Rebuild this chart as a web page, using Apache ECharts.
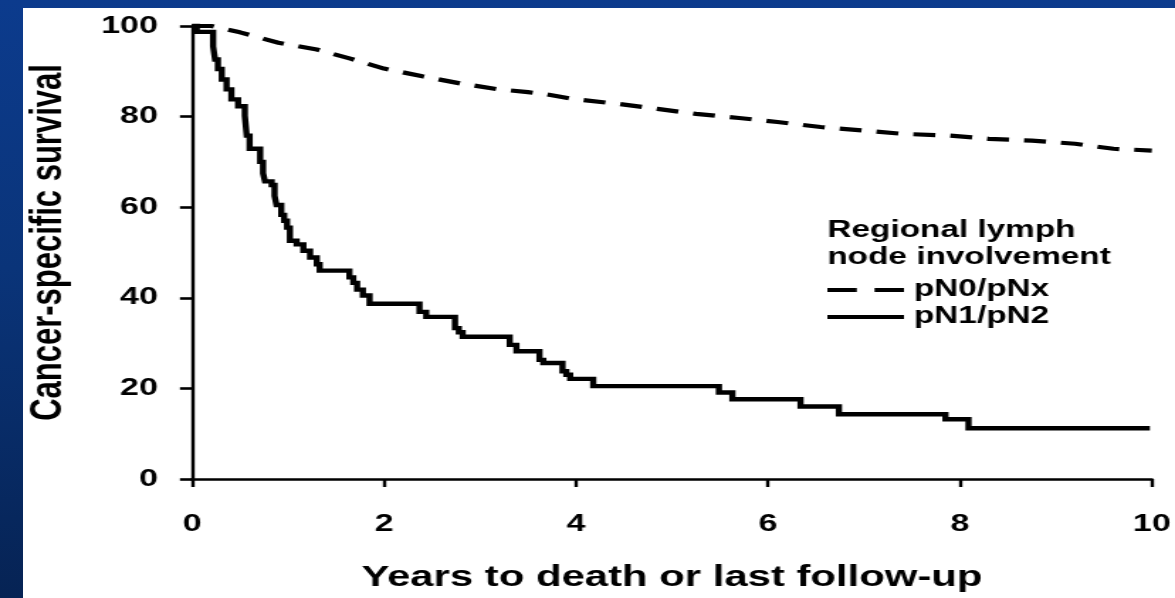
<!DOCTYPE html>
<html>
<head>
<meta charset="utf-8">
<script src="https://cdn.jsdelivr.net/npm/echarts@6/dist/echarts.min.js"></script>
<style>
  html, body { margin: 0; padding: 0; width: 1175px; height: 598px; overflow: hidden; }
  body { background: linear-gradient(180deg, #0c3b8d 0%, #0a3479 45%, #062354 100%); position: relative; }
  #panel { position: absolute; left: 23px; top: 8px; right: 0; bottom: 0; background: #ffffff; }
  /* the figure is drawn at a narrower width and widened horizontally */
  #chart { position: absolute; left: 0; top: 0; width: 828px; height: 598px; transform-origin: 0 0; }
</style>
</head>
<body>
<div id="panel"></div>
<div id="chart"></div>
<script>
// Kaplan-Meier cancer-specific survival (%) by regional lymph node status
const pN0Years = [0, 0.2, 0.5, 0.9, 1.3, 1.65, 2.0, 2.4, 2.8, 3.2, 3.5, 3.7, 4.0, 4.45, 4.85, 5.25, 5.7, 6.1, 6.55, 7.0, 7.4, 7.9, 8.3, 8.75, 9.2, 9.6, 10];
const pN0Survival = [100, 100, 98.6, 96.3, 94.8, 92.8, 90.6, 88.9, 87.3, 86.0, 85.4, 84.9, 83.8, 82.8, 81.7, 80.6, 79.7, 78.8, 77.7, 76.9, 76.2, 75.8, 75.1, 74.7, 74.0, 72.9, 72.5];

const pN1Years = [0, 0.05, 0.22, 0.24, 0.27, 0.31, 0.36, 0.41, 0.48, 0.55, 0.57, 0.60, 0.71, 0.74, 0.76, 0.83, 0.86, 0.88, 0.93, 0.96, 0.99, 1.02, 1.09, 1.16, 1.23, 1.30, 1.33, 1.64, 1.68, 1.72, 1.78, 1.85, 2.37, 2.44, 2.74, 2.78, 2.82, 3.31, 3.38, 3.62, 3.66, 3.86, 3.90, 3.94, 4.18, 5.49, 5.63, 6.34, 6.74, 7.85, 8.09, 9.98];
const pN1Survival = [100, 98.7, 95.5, 92.6, 90.5, 88.2, 86.0, 83.8, 82.3, 80.2, 75.8, 72.9, 70.0, 67.5, 65.7, 64.9, 62.5, 60.5, 58.3, 57.0, 55.5, 52.6, 51.8, 50.4, 48.9, 47.4, 46.0, 44.5, 43.3, 41.8, 40.5, 38.7, 36.9, 35.8, 33.3, 32.4, 31.4, 29.6, 28.2, 26.3, 25.6, 23.8, 23.0, 22.1, 20.5, 19.1, 17.6, 16.0, 14.3, 13.2, 11.2, 11.2];

const seriesNames = ['pN0/pNx', 'pN1/pN2'];
const legendHeading = 'Regional lymph\nnode involvement';
const xAxisTitle = 'Years to death or last follow-up';
const yAxisTitle = 'Cancer-specific survival';

const FULL_WIDTH = 1175;
const DRAW_WIDTH = 828;
const stretch = FULL_WIDTH / DRAW_WIDTH;
const el = document.getElementById('chart');
el.style.transform = 'scaleX(' + stretch + ')';

const zip = (xs, ys) => xs.map((x, i) => [x, ys[i]]);
const font = "'Liberation Sans', Arial, Helvetica, sans-serif";

// legend keys: two dashes for the dashed curve, one bar for the solid one
const dashedKey = 'path://M0,0H17.6V4H0Z M28.2,0H45.8V4H28.2Z';
const solidKey = 'path://M0,0H45.8V4H0Z';

const chart = echarts.init(el, null, { renderer: 'canvas', width: DRAW_WIDTH, height: 598 });

chart.setOption({
  animation: false,
  backgroundColor: 'transparent',
  textStyle: { fontFamily: font, color: '#000' },
  grid: { left: 135.3, right: 15.5, top: 26, bottom: 114, containLabel: false },
  title: {
    text: legendHeading,
    left: 583, top: 217, padding: 0,
    textStyle: { fontFamily: font, fontSize: 23.5, fontWeight: 'bold', color: '#000', lineHeight: 27 }
  },
  legend: {
    orient: 'vertical',
    left: 583, top: 276.5, padding: 0,
    itemWidth: 54, itemHeight: 4, itemGap: 0,
    symbolKeepAspect: false,
    data: [
      { name: seriesNames[0], icon: dashedKey },
      { name: seriesNames[1], icon: solidKey }
    ],
    itemStyle: { color: '#000', borderWidth: 0 },
    textStyle: { fontFamily: font, fontSize: 23.5, fontWeight: 'bold', color: '#000', lineHeight: 27, padding: [0, 0, 0, 2] }
  },
  xAxis: {
    type: 'value', min: 0, max: 10, interval: 2,
    name: xAxisTitle, nameLocation: 'middle', nameGap: 84,
    nameTextStyle: { fontFamily: font, fontSize: 29.5, fontWeight: 'bold', color: '#000' },
    axisLine: { show: true, onZero: false, lineStyle: { color: '#000', width: 2.6 } },
    axisTick: { show: true, inside: false, length: 8, lineStyle: { color: '#000', width: 2.4 } },
    axisLabel: { margin: 33, fontFamily: font, fontSize: 24, fontWeight: 'bold', color: '#000', showMinLabel: true, showMaxLabel: true },
    splitLine: { show: false }
  },
  yAxis: {
    type: 'value', min: 0, max: 100, interval: 20,
    name: yAxisTitle, nameLocation: 'middle', nameRotate: 90, nameGap: 85,
    nameTextStyle: { fontFamily: font, fontSize: 31, fontWeight: 'bold', color: '#000', padding: [0, 0, 0, 20] },
    axisLine: { show: true, onZero: false, lineStyle: { color: '#000', width: 2.4 } },
    axisTick: { show: true, inside: false, length: 8.5, lineStyle: { color: '#000', width: 2.6 } },
    axisLabel: { margin: 24, fontFamily: font, fontSize: 24, fontWeight: 'bold', color: '#000' },
    splitLine: { show: false }
  },
  series: [
    {
      name: seriesNames[0], type: 'line',
      data: zip(pN0Years, pN0Survival),
      symbol: 'none', smooth: false, clip: false,
      lineStyle: { color: '#000', width: 4.2, type: [15.5, 10.6], cap: 'butt' },
      itemStyle: { color: '#000' },
      z: 3
    },
    {
      name: seriesNames[1], type: 'line', step: 'end',
      data: zip(pN1Years, pN1Survival),
      symbol: 'none', clip: false,
      lineStyle: { color: '#000', width: 4.4, type: 'solid', join: 'miter' },
      itemStyle: { color: '#000' },
      z: 4
    }
  ]
});
</script>
</body>
</html>
